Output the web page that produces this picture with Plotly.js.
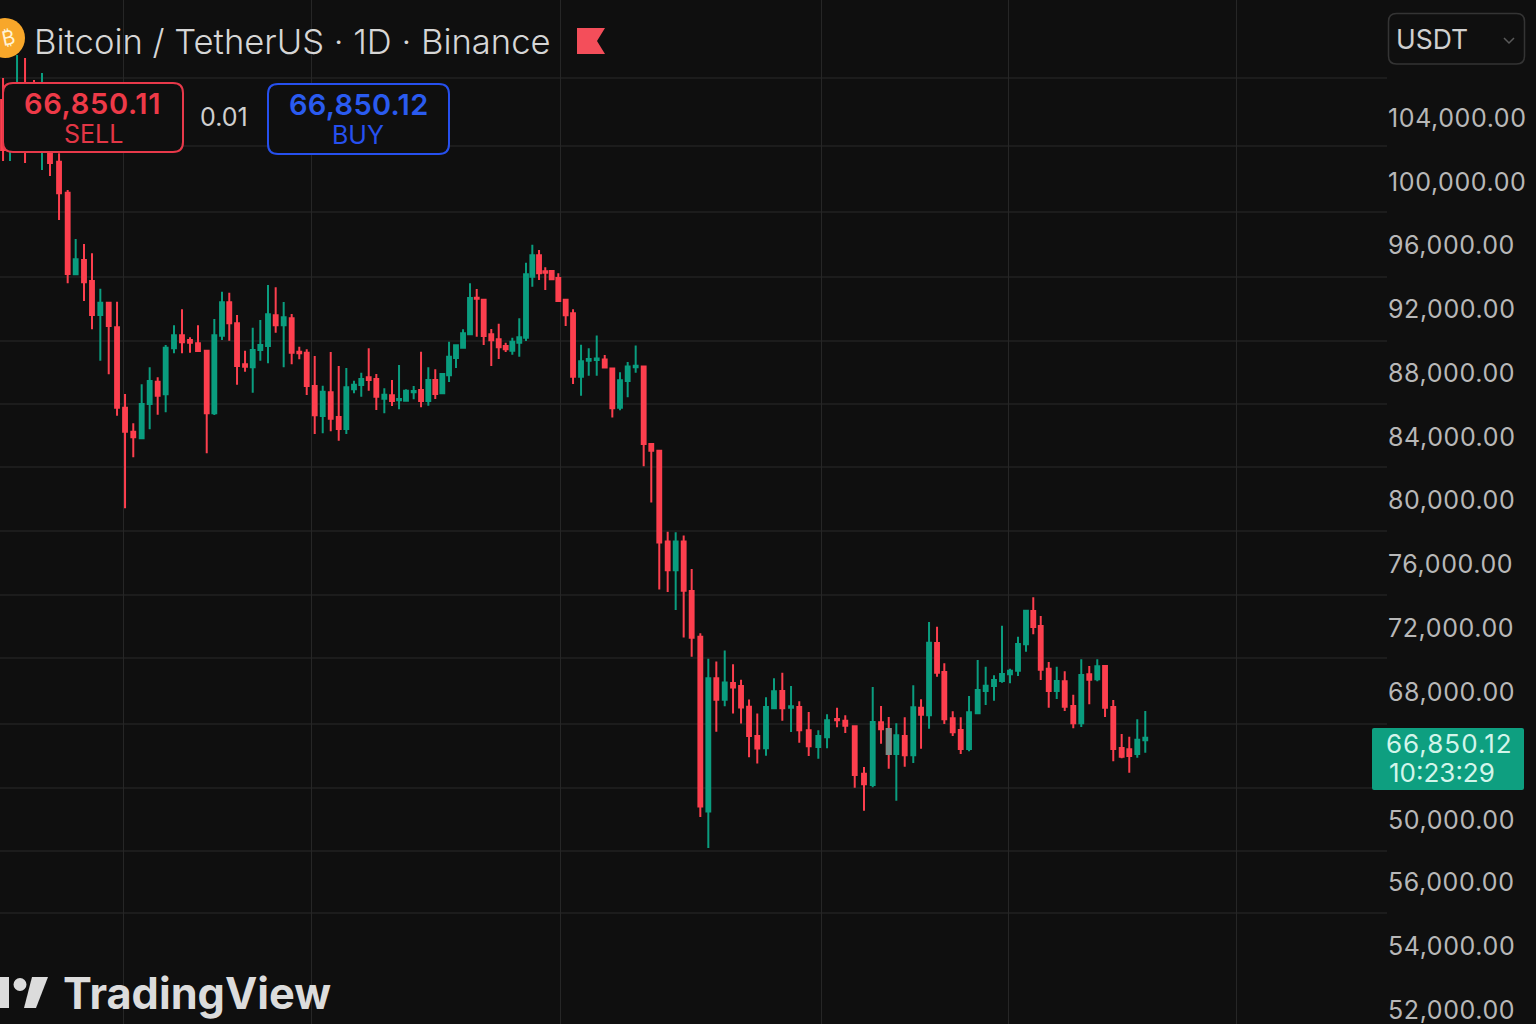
<!DOCTYPE html>
<html><head><meta charset="utf-8">
<script src="https://cdn.plot.ly/plotly-3.0.1.min.js"></script>
<style>html,body{margin:0;padding:0;background:#0f0f0f}#chart{width:1536px;height:1024px}.ytick text{letter-spacing:0.6px}</style>
</head><body><div id="chart"></div>
<script>
const barDay=[0.38,1.25,2.13,3.13,4.25,5.25,6.25,7.38,8.46,9.46,10.5,11.5,12.54,13.59,14.63,15.63,16.66,17.71,18.71,19.71,20.71,21.75,22.75,23.75,24.75,25.84,26.79,27.75,28.66,29.63,30.63,31.59,32.54,33.5,34.46,35.46,36.46,37.41,38.34,39.34,40.34,41.34,42.34,43.29,44.25,45.16,46.09,47.04,48.04,49,49.88,50.75,51.71,52.63,53.54,54.41,55.29,56.13,57,57.88,58.75,59.59,60.46,61.41,62.34,63.21,64.04,64.91,65.75,66.54,67.38,68.16,68.96,69.79,70.71,71.63,72.63,73.59,74.59,75.59,76.54,77.5,78.46,79.46,80.46,81.41,82.41,83.46,84.46,85.46,86.46,87.54,88.54,89.54,90.59,91.63,92.63,93.63,94.66,95.75,96.75,97.79,98.88,99.91,101.09,102.29,103.38,104.63,105.66,106.84,108,109.09,110.13,111.09,112.04,113.09,114.16,115.13,116.13,117.13,118.04,119.09,120.09,121.13,122.21,123.21,124.25,125.25,126.25,127.25,128.25,129.16,130.09,131.09,132.09,133.09,134.16,135.16,136.16,137.16,138.13,139.16,140.21,141.16,142.16,143.16];
const openPrice=[105129,102620,103561,105443,105129,102620,102495,101261,99317,94195,95094,93776,91644,92418,90870,85832,84326,83908,86062,87463,86668,89553,90369,90076,89867,89407,85476,90348,92438,91121,88550,88362,89449,89700,91623,90996,91435,89344,89281,87191,85309,86793,85246,84494,86981,87253,87734,87630,86396,86605,86292,86271,86793,86940,86250,87567,86731,87860,88947,89595,90431,92731,92605,90431,90118,89699,89407,89908,90222,94048,95386,94383,94403,93964,92605,91748,87767,88782,88826,88848,88286,85824,87508,88372,88416,83555,83123,77444,75630,77444,74333,71461,60511,68869,67509,68567,68372,67076,65240,64466,66974,68062,67016,67058,65595,64549,65156,66305,66201,65845,62877,62166,66096,65678,64110,65239,64027,67016,66535,71072,69253,66347,65615,64423,66660,68061,68375,68688,69107,69337,70988,73079,72138,69462,68061,68667,67120,66033,69107,68793,69629,67058,64486,64402,64110,64967];
const closePrice=[101993,104815,105129,103247,103561,104188,101178,99275,94215,95135,93693,91644,92418,90954,85832,84326,83971,86062,87504,86584,89595,90369,89930,89909,89386,85476,90369,92438,91121,88445,88403,89449,89762,91686,90996,91498,89281,89239,87191,85351,86835,85142,84494,87107,87274,87630,87567,86521,86647,86250,86375,86898,86877,86250,87567,86689,87943,89030,89741,90494,92710,92668,90327,90055,89616,89490,89971,90243,94194,95386,94257,94299,93881,92522,91623,87776,88739,88891,88912,88351,85802,87551,88416,88458,83555,83123,77379,75630,77444,74355,71396,60813,68869,67509,68588,68286,67034,65240,64463,67058,68041,66974,67100,65595,64591,65239,66222,66222,65887,62793,62208,66117,65657,64110,65281,64027,67037,66577,71093,69211,66285,65469,64423,66723,68124,68396,68751,69127,69337,71009,73100,72075,69399,68061,68688,67079,66033,69065,68772,69608,67016,64423,63942,63984,65009,65134];
const highPrice=[106509,106070,107951,107763,106383,106822,103875,101784,99484,96411,96097,95512,93296,92418,92480,86689,84849,87295,88362,87734,89762,90996,91999,90243,90996,89407,91393,93107,93045,91644,89407,90849,91330,93526,93379,92459,91706,89658,89490,89072,87211,89323,88445,88320,87525,88027,89553,87943,87044,87567,88508,86981,87191,89344,88361,88236,87985,89971,89741,90745,93630,93274,92605,90766,91100,89908,90222,91435,94926,96055,95721,94633,94424,94257,92605,91999,89776,89560,90359,89128,88286,88048,88696,89733,88416,83599,83123,78048,78026,77810,75715,71677,70079,69906,70597,69733,68761,67530,66644,67664,68856,69211,68375,67413,66744,65595,66598,67016,66535,65845,63295,68312,67121,66431,66034,66410,68417,67539,72389,72097,69797,66786,66410,67748,70006,69587,69044,72159,69462,71469,73100,73936,72765,69880,69587,69295,67831,70047,69629,70047,69629,67497,65364,65197,66284,66807];
const lowPrice=[101303,101303,102620,101178,102620,100739,100362,97602,93630,94195,92522,90745,88780,87922,85330,79518,82717,83908,84473,85393,85539,89240,89240,89281,89386,82968,85372,90076,90034,87274,88090,86773,88780,88612,90536,88362,88549,88863,86626,84180,84222,84347,83762,84180,86731,86521,86898,85685,85476,85936,85727,86229,86354,85852,85957,86375,86731,87441,88320,89595,90431,90285,89762,88445,88884,89323,89156,89030,90013,93421,93839,93212,93839,92522,90954,87316,86579,87832,87832,88307,85218,85672,86493,88026,82152,79884,74420,74268,73145,71418,70208,60165,58222,65500,67098,66644,66018,63901,63513,64006,66954,66201,65490,64821,63985,63817,64466,65783,65427,61999,60556,62019,64758,63190,61183,63316,63546,64445,65699,68961,65992,65239,64110,64277,66619,67183,67455,68584,68542,69002,70528,71615,68751,67016,67559,66807,65720,65803,67225,68667,66430,63650,63838,62939,63880,64193];
const mutedDay=[111.09], mutedTop=[65678], mutedBottom=[64110];
const tickPrices=[104000,100000,96000,92000,88000,84000,80000,76000,72000,68000,59971,56082,52069,48054];
const tickLabels=['104,000.00','100,000.00','96,000.00','92,000.00','88,000.00','84,000.00','80,000.00','76,000.00','72,000.00','68,000.00','50,000.00','56,000.00','54,000.00','52,000.00'];
const gridPrices=[106509,102244,98104,94027,90013,86062,82111,78097,74083,70131,65992,61977,58026,54137];
const gridDays=[15.375,38.875,70,102.625,126,154.5];
const titleText='Bitcoin / TetherUS · 1D · Binance';
const sellPrice='66,850.11', buyPrice='66,850.12', spread='0.01', lastPrice='66,850.12', countdown='10:23:29', currency='USDT', brand='TradingView';

const BG='#0f0f0f',RED='#fd3f4e',GREEN='#0a9d7f',PW=1387,PH=1024,FONT='Inter, "Noto Sans", sans-serif';
const px=x=>x/PW, py=y=>1-y/PH;
function roundRect(x0,y0,x1,y1,r){
  const a=[[x0+r,y0],[x1-r,y0],[x1,y0],[x1,y0+r],[x1,y1-r],[x1,y1],[x1-r,y1],[x0+r,y1],[x0,y1],[x0,y1-r],[x0,y0+r],[x0,y0],[x0+r,y0]].map(p=>px(p[0])+','+py(p[1]));
  return `M${a[0]} L${a[1]} Q${a[2]} ${a[3]} L${a[4]} Q${a[5]} ${a[6]} L${a[7]} Q${a[8]} ${a[9]} L${a[10]} Q${a[11]} ${a[12]} Z`;
}
function poly(pts,close=true){return 'M'+pts.map(p=>px(p[0])+','+py(p[1])).join(' L')+(close?' Z':'');}
const pShape=(path,fill,line,w)=>({type:'path',xref:'paper',yref:'paper',path,fillcolor:fill,line:{color:line||fill,width:w||0},layer:'above'});
const T=(text,x,y,size,color,anchor,extra)=>Object.assign({text,x:px(x),y:py(y),xref:'paper',yref:'paper',showarrow:false,xanchor:anchor||'left',yanchor:'middle',font:{family:FONT,size,color},borderpad:0},extra||{});
const spaced=(s,v)=>`<span style="letter-spacing:${v}px">${s}</span>`;

const shapes=[
  ...gridPrices.map(p=>({type:'line',xref:'paper',yref:'y',x0:0,x1:1,y0:p,y1:p,line:{color:'#2a2a2a',width:1},layer:'below'})),
  pShape(roundRect(3,83,183,152,10),BG,'#e8394a',2),
  pShape(roundRect(268,84,449,154,10),BG,'#2650ee',2),
  {type:'circle',xref:'paper',yref:'paper',x0:px(-15),x1:px(25),y0:py(58),y1:py(18),fillcolor:'#f8a72a',line:{width:0},layer:'above'},
  pShape(poly([[577,28],[605,28],[597,41],[605,54],[577,54]]),'#f44e5a'),
  pShape(roundRect(1388.5,13.5,1524.5,64,8),'rgba(0,0,0,0)','#343434',1.5),
  pShape(poly([[1504,38],[1509,43],[1514,38]],false),'rgba(0,0,0,0)','#5a5a5a',1.5),
  pShape(roundRect(1372,728,1524,790,2),'#0e9f80'),
  pShape(poly([[0,977],[9,977],[9,1008],[0,1008]]),'#dcdcdc'),
  {type:'circle',xref:'paper',yref:'paper',x0:px(13.5),x1:px(26.5),y0:py(991),y1:py(978),fillcolor:'#dcdcdc',line:{width:0},layer:'above'},
  pShape(poly([[32,977],[48,977],[36,1008],[24,1008]]),'#dcdcdc'),
];
const annotations=[
  T('₿',8,38,20,'#fff3d6','center',{textangle:-12}),
  T(titleText,33,41,34.6,'#d6d6d6','left',{font:{family:FONT,size:34.6,color:'#d6d6d6',weight:300}}),
  T(spaced(sellPrice,0.7),92,103,29,'#ee3a48','center',{font:{family:FONT,size:29,color:'#ee3a48',weight:600}}),
  T('SELL',93,134,25,'#e23645','center'),
  T(spread,223.5,117,25,'#cfcfcf','center'),
  T(spaced(buyPrice,0.3),359,104,29,'#2a5bf0','center',{font:{family:FONT,size:29,color:'#2a5bf0',weight:600}}),
  T('BUY',358,135,25,'#2650ee','center'),
  T(currency,1395,39,26.5,'#d0d0d0'),
  T(spaced(lastPrice,1),1449,743,26,'#d3f5ea','center'),
  T(countdown,1388,772,26,'#d3f5ea'),
  T(brand,61.5,993,43.3,'#dcdcdc','left',{font:{family:FONT,size:43.3,color:'#dcdcdc',weight:700}}),
];
const data=[
 {type:'candlestick',x:barDay,open:openPrice,high:highPrice,low:lowPrice,close:closePrice,hoverinfo:'skip',
  increasing:{line:{color:GREEN,width:2},fillcolor:GREEN},decreasing:{line:{color:RED,width:2},fillcolor:RED}},
 {type:'candlestick',x:mutedDay,open:mutedBottom,high:mutedTop,low:mutedBottom,close:mutedTop,hoverinfo:'skip',
  increasing:{line:{color:'#75908a',width:2},fillcolor:'#75908a'},decreasing:{line:{color:'#75908a',width:2},fillcolor:'#75908a'}}
];
const layout={width:1536,height:1024,paper_bgcolor:BG,plot_bgcolor:BG,showlegend:false,boxgap:0.12,
  margin:{l:0,r:149,t:0,b:0,pad:0},
  xaxis:{range:[0,PW/8],tickmode:'array',tickvals:gridDays,showticklabels:false,ticks:'',showgrid:true,gridcolor:'#262626',gridwidth:1,zeroline:false,showline:false,rangeslider:{visible:false}},
  yaxis:{range:[47176,111401],side:'right',tickmode:'array',tickvals:tickPrices,ticktext:tickLabels,ticks:'',showgrid:false,zeroline:false,showline:false,tickfont:{family:FONT,size:25,color:'#b8b8b8'},automargin:false,ticklabeloverflow:'allow'},
  shapes,annotations};
Plotly.newPlot('chart',data,layout,{staticPlot:true,displayModeBar:false});
</script></body></html>
